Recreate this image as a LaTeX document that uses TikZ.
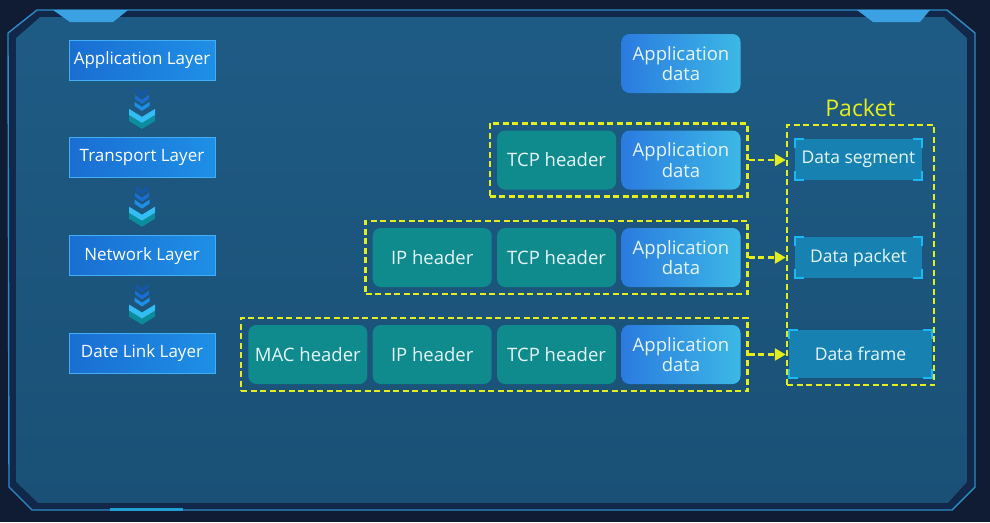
\documentclass[tikz,border=0pt]{standalone}
\usepackage{fontspec}
\setmainfont{Open Sans}
\usetikzlibrary{positioning,calc,fit,arrows.meta}
\definecolor{bgdark}{HTML}{101B34}
\definecolor{framedark}{HTML}{12284A}
\definecolor{frameline}{HTML}{2C8CC4}
\definecolor{paneltop}{HTML}{1E5B84}
\definecolor{panelbot}{HTML}{1A5076}
\definecolor{tabblue}{HTML}{3AA2E2}
\definecolor{layerleft}{HTML}{1A6ED2}
\definecolor{layerright}{HTML}{1E8FE6}
\definecolor{layeredge}{HTML}{44AEF4}
\definecolor{hdrteal}{HTML}{0F8B8E}
\definecolor{appleft}{HTML}{2B7BDF}
\definecolor{appright}{HTML}{3CB8E6}
\definecolor{segfill}{HTML}{1782B2}
\definecolor{cornercyan}{HTML}{1CB8F4}
\definecolor{markyellow}{HTML}{E4EE1E}
\definecolor{textlight}{HTML}{E6F6F8}
\tikzset{
  layer box/.style={
    rectangle,
    draw=layeredge,
    line width=0.8pt,
    left color=layerleft,
    right color=layerright,
    minimum width=146pt,
    minimum height=40pt,
    inner sep=1pt,
    text=white,
    font=\fontsize{17}{20}\selectfont
  },
  hdr box/.style={
    rectangle,
    rounded corners=8pt,
    fill=hdrteal,
    minimum width=119pt,
    minimum height=59pt,
    inner sep=2pt,
    align=center,
    text=textlight,
    font=\fontsize{18.5}{20.5}\selectfont
  },
  data box/.style={
    hdr box,
    fill=none,
    left color=appleft,
    right color=appright
  },
  row frame/.style={
    draw=markyellow,
    line width=2.5pt,
    dash pattern=on 6pt off 3.5pt,
    inner sep=7pt
  },
  seg box/.style={
    rectangle,
    fill=segfill,
    minimum width=127pt,
    minimum height=41pt,
    inner sep=1pt,
    text=textlight,
    font=\fontsize{17.5}{20}\selectfont
  },
  corner mark/.style={
    draw=cornercyan,
    line width=2.4pt
  },
  flow arrow/.style={
    draw=markyellow,
    line width=2.5pt,
    dash pattern=on 6pt off 3.5pt,
    -{Triangle[length=11pt,width=12pt]}
  }
}
\newcommand{\downchev}[5]{%
  \fill[#1] (-#3,#2) -- (0,#2+#4) -- (#3,#2) -- (#3,#2+#5) -- (0,#2+#4+#5) -- (-#3,#2+#5) -- cycle;}

\begin{document}
\begin{tikzpicture}[x=1pt, y=-1pt, node distance=5pt]
  \useasboundingbox (0,0) rectangle (990,522);

  % Backdrop and frame
  \fill[bgdark] (0,0) rectangle (990,522);
  \fill[framedark] (8,33) -- (37,10) -- (947,10) -- (975,33) -- (975,487) -- (952,510) -- (32,510) -- (9,487) -- cycle;
  \fill[top color=paneltop, bottom color=panelbot] (16,38) -- (40,17) -- (944,17) -- (967,38) -- (967,482) -- (948,503) -- (38,503) -- (16,482) -- cycle;
  \draw[frameline, line width=1.4pt] (8,33) -- (37,10) -- (947,10) -- (975,33) -- (975,487) -- (952,510) -- (32,510) -- (9,487) -- cycle;
  \fill[tabblue] (53,10) -- (128,10) -- (113,22) -- (70,22) -- cycle;
  \fill[tabblue] (857,10) -- (930,10) -- (920,22) -- (873,22) -- cycle;
  \draw[cyan!70!teal, line width=3pt] (110,509) -- (183,509);

  % Layers
  \node[layer box] (app) at (142,60) {Application Layer};
  \node[layer box, below=57pt of app] (tran) {Transport Layer};
  \node[layer box, below=57pt of tran] (net) {Network Layer};
  \node[layer box, below=57pt of net] (link) {Date Link Layer};

  % Chevrons between layers
  \foreach \a/\b in {app/tran, tran/net, net/link} {
    \coordinate (m) at ($(\a.south)!0.5!(\b.north)$);
    \begin{scope}[shift={(m)}]
      \downchev{layerleft!80!black}{-21}{6.5}{5}{4}
      \downchev{layerleft}{-14}{7}{5}{4}
      \downchev{layerright}{-7}{7.5}{5}{4}
      \downchev{teal!60!cyan, opacity=0.6}{6}{13}{8}{6}
      \downchev{cyan!80!white}{0}{13}{8}{6}
    \end{scope}
  }

  % Encapsulation rows
  \node[data box] (app0) at (681,63.5) {Application\\data};

  \node[data box] (app1) at (681,160) {Application\\data};
  \node[hdr box, left=of app1] (tcp1) {TCP header};

  \node[data box] (app2) at (681,257.5) {Application\\data};
  \node[hdr box, left=of app2] (tcp2) {TCP header};
  \node[hdr box, left=of tcp2] (ip2) {IP header};

  \node[data box] (app3) at (681,354.5) {Application\\data};
  \node[hdr box, left=of app3] (tcp3) {TCP header};
  \node[hdr box, left=of tcp3] (ip3) {IP header};
  \node[hdr box, left=of ip3] (mac3) {MAC header};

  \node[row frame, fit=(tcp1)(app1)] (row1) {};
  \node[row frame, fit=(ip2)(app2)] (row2) {};
  \node[row frame, fit=(mac3)(app3)] (row3) {};

  % Packet column
  \node[row frame, minimum width=147pt, minimum height=260pt, inner sep=0pt] (pkt) at (860.5,255) {};
  \node[above=3pt of pkt, text=markyellow, font=\fontsize{23}{26}\selectfont] (pktlbl) {Packet};
  \node[seg box] (seg) at (858.5,159.5) {Data segment};
  \node[seg box] (dpk) at (858.5,257.5) {Data packet};
  \node[seg box, minimum width=143pt, minimum height=48pt] (frm) at (860.5,354) {Data frame};

  \foreach \n in {seg, dpk, frm} {
    \draw[corner mark] ([yshift=-9pt]\n.north west) -- (\n.north west) -- ([xshift=9pt]\n.north west);
    \draw[corner mark] ([yshift=-9pt]\n.north east) -- (\n.north east) -- ([xshift=-9pt]\n.north east);
    \draw[corner mark] ([yshift=9pt]\n.south west) -- (\n.south west) -- ([xshift=9pt]\n.south west);
    \draw[corner mark] ([yshift=9pt]\n.south east) -- (\n.south east) -- ([xshift=-9pt]\n.south east);
  }

  % Arrows into the packet column
  \draw[flow arrow] (row1.east) -- (row1.east -| pkt.west);
  \draw[flow arrow] (row2.east) -- (row2.east -| pkt.west);
  \draw[flow arrow] (row3.east) -- (row3.east -| pkt.west);

\end{tikzpicture}
\end{document}
